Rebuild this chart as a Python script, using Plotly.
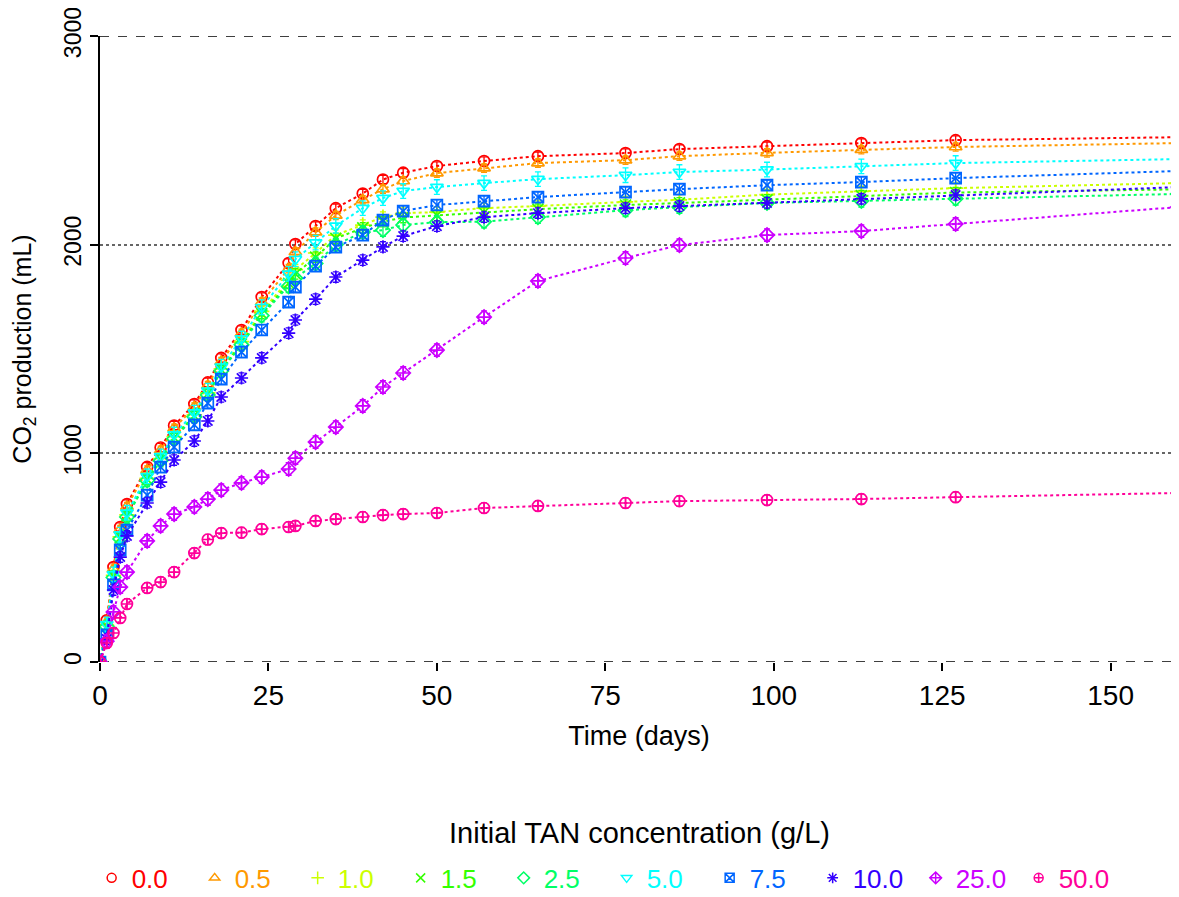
import plotly.graph_objects as go

# ---------------- data ----------------
days = [0, 1, 2, 3, 4, 7, 9, 11, 14, 16, 18, 21, 24, 28, 29, 32, 35, 39, 42, 45,
        50, 57, 65, 78, 86, 99, 113, 127, 160]

tan_labels = ["0.0", "0.5", "1.0", "1.5", "2.5", "5.0", "7.5", "10.0", "25.0", "50.0"]

co2_tan_0_0 = [0, 200, 455, 647, 757, 935, 1028, 1133, 1236, 1340, 1457, 1591, 1749, 1912, 2003,
               2089, 2175, 2245, 2312, 2345, 2377, 2401, 2424, 2439, 2458, 2472, 2487, 2501, 2515]
co2_tan_0_5 = [0, 190, 445, 635, 745, 920, 1015, 1120, 1222, 1325, 1440, 1575, 1725, 1885, 1965,
               2060, 2140, 2215, 2266, 2305, 2343, 2367, 2391, 2405, 2424, 2440, 2455, 2468, 2487]
co2_tan_1_0 = [0, 175, 415, 600, 705, 880, 975, 1080, 1185, 1290, 1405, 1535, 1680, 1830, 1880,
               1960, 2046, 2094, 2132, 2151, 2156, 2175, 2185, 2205, 2215, 2240, 2255, 2271, 2295]
co2_tan_1_5 = [0, 170, 410, 595, 700, 875, 970, 1075, 1180, 1285, 1400, 1525, 1670, 1815, 1860,
               1940, 2030, 2080, 2110, 2130, 2140, 2155, 2170, 2190, 2200, 2215, 2235, 2250, 2265]
co2_tan_2_5 = [0, 170, 405, 590, 695, 870, 965, 1070, 1175, 1280, 1395, 1520, 1660, 1800, 1840,
               1910, 2000, 2060, 2070, 2094, 2108, 2110, 2132, 2165, 2180, 2200, 2210, 2220, 2243]
co2_tan_5_0 = [0, 180, 420, 610, 715, 890, 985, 1090, 1195, 1300, 1415, 1550, 1700, 1860, 1930,
               2010, 2090, 2175, 2223, 2257, 2276, 2295, 2314, 2333, 2348, 2360, 2375, 2391, 2410]
co2_tan_7_5 = [0, 130, 370, 537, 632, 800, 934, 1030, 1136, 1241, 1356, 1485, 1591, 1725, 1797,
               1897, 1988, 2046, 2118, 2161, 2190, 2209, 2228, 2252, 2266, 2285, 2300, 2319, 2353]
co2_tan_10_0 = [0, 110, 345, 503, 604, 762, 862, 968, 1059, 1155, 1270, 1361, 1457, 1576, 1639,
                1739, 1845, 1926, 1989, 2041, 2089, 2132, 2151, 2175, 2185, 2200, 2220, 2238, 2276]
co2_tan_25_0 = [0, 100, 240, 359, 431, 580, 652, 709, 743, 781, 824, 858, 886, 925, 977,
                1054, 1126, 1227, 1318, 1385, 1495, 1653, 1826, 1936, 1998, 2046, 2065, 2099, 2180]
co2_tan_50_0 = [0, 91, 139, 211, 278, 355, 383, 431, 522, 587, 618, 620, 637, 647, 652,
                676, 685, 695, 704, 709, 714, 738, 748, 762, 771, 776, 781, 790, 810]

series = [co2_tan_0_0, co2_tan_0_5, co2_tan_1_0, co2_tan_1_5, co2_tan_2_5,
          co2_tan_5_0, co2_tan_7_5, co2_tan_10_0, co2_tan_25_0, co2_tan_50_0]

# approximate error-bar half widths (mL), one per series
err_half = [20, 20, 25, 25, 30, 35, 25, 25, 30, 25]

y_ticks = [0, 1000, 2000, 3000]
x_ticks = [0, 25, 50, 75, 100, 125, 150]

# ---------------- style ----------------
colors = ["#FF0000", "#FF9900", "#CCFF00", "#33FF00", "#00FF66",
          "#00FFFF", "#0066FF", "#3300FF", "#CC00FF", "#FF0099"]
symbols = ["circle-open", "triangle-up-open", "cross-thin-open", "x-thin-open", "diamond-open",
           "triangle-down-open", "square-x-open", "asterisk-open", "diamond-cross-open",
           "circle-cross-open"]
FONT = "Arial, Liberation Sans, sans-serif"

fig = go.Figure()
for lab, ys, col, sym, e in zip(tan_labels, series, colors, symbols, err_half):
    fig.add_trace(go.Scatter(
        x=days, y=ys, mode="lines+markers", showlegend=False, legendgroup=lab,
        line=dict(color=col, width=2, dash="dot"),
        marker=dict(symbol=sym, size=11, color=col, line=dict(color=col, width=1.7)),
        error_y=dict(type="constant", value=e, color=col, thickness=1.3, width=3),
    ))

# legend entries: symbol only (no line), coloured label text
for lab, col, sym in zip(tan_labels, colors, symbols):
    fig.add_trace(go.Scatter(
        x=[None], y=[None], mode="markers", legendgroup=lab,
        name=f'<span style="color:{col}">{lab}</span>',
        marker=dict(symbol=sym, size=9, color=col, line=dict(color=col, width=1.5)),
    ))

# dashed lines at range limits
for yv in (y_ticks[0], y_ticks[-1]):
    fig.add_shape(type="line", xref="paper", x0=0, x1=1, yref="y", y0=yv, y1=yv,
                  line=dict(color="black", width=1.5, dash="dash"), layer="below")

fig.add_annotation(text="Initial TAN concentration (g/L)", xref="paper", yref="paper",
                   x=0.5, y=-0.273, showarrow=False, xanchor="center", yanchor="middle",
                   font=dict(family=FONT, size=29, color="black"))

# page body has an 8px default margin, so the figure is sized to fill the window
fig.update_layout(
    width=1171, height=889,
    margin=dict(l=92, r=1, t=28, b=235, autoexpand=False),
    paper_bgcolor="white", plot_bgcolor="white",
    font=dict(family=FONT, size=24, color="black"),
    showlegend=True,
    legend=dict(orientation="h", x=0.47, xanchor="center", y=-0.345, yanchor="middle",
                font=dict(family=FONT, size=26), entrywidth=58, entrywidthmode="pixels",
                itemwidth=30, bgcolor="rgba(0,0,0,0)", traceorder="normal"),
    xaxis=dict(range=[0, 160], tickvals=x_ticks, ticks="outside", ticklen=8, tickwidth=2,
               tickcolor="black", showgrid=False, zeroline=False, showline=False,
               automargin=False, tickfont=dict(size=28), ticklabeloverflow="allow",
               title=dict(text="Time (days)", font=dict(size=27), standoff=16)),
    yaxis=dict(range=[0, 3000], tickvals=y_ticks, ticks="outside", ticklen=8, tickwidth=2,
               tickcolor="black", tickangle=-90, showgrid=True, griddash="dot",
               gridcolor="#666666", gridwidth=1.5, zeroline=False, showline=True,
               linecolor="black", linewidth=2, automargin=False, tickfont=dict(size=23),
               ticklabeloverflow="allow",
               title=dict(text="CO<sub>2</sub> production (mL)", font=dict(size=25),
                          standoff=24)),
)

fig.write_html("out.html")
